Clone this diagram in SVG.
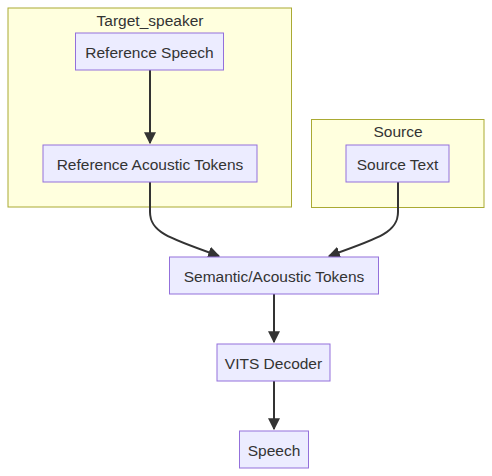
<svg xmlns="http://www.w3.org/2000/svg" width="492" height="476" viewBox="0 0 492 476">
<style>
.cluster rect{fill:#ffffde;stroke:#aaaa33;stroke-width:1}
.node rect{fill:#ECECFF;stroke:#9370DB;stroke-width:1}
text{font-family:"Liberation Sans","DejaVu Sans",sans-serif;font-size:15.5px;fill:#333;text-anchor:middle}
.edge{fill:none;stroke:#333;stroke-width:2}
</style>
<defs>
<marker id="arrow" viewBox="0 0 10 10" refX="9" refY="5" markerUnits="userSpaceOnUse" markerWidth="12" markerHeight="12" orient="auto">
<path d="M0,0 L10,5 L0,10 z" fill="#333"/>
</marker>
</defs>
<g id="cluster-target" class="cluster">
<rect x="8" y="8" width="283.5" height="199"/>
<text x="150" y="26">Target_speaker</text>
</g>
<g id="cluster-source" class="cluster">
<rect x="311.5" y="119.5" width="172.5" height="88"/>
<text x="398" y="137">Source</text>
</g>
<g id="edges">
<path class="edge" d="M150,70 L150,143" marker-end="url(#arrow)"/>
<path class="edge" d="M150,182 L150,212 C150,232 168,238 219,256" marker-end="url(#arrow)"/>
<path class="edge" d="M398,182 L398,212 C398,232 380,238 329,256" marker-end="url(#arrow)"/>
<path class="edge" d="M274,294 L274,342" marker-end="url(#arrow)"/>
<path class="edge" d="M274,381 L274,429" marker-end="url(#arrow)"/>
</g>
<g id="node-refspeech" class="node">
<rect x="75.5" y="33" width="148" height="37"/>
<text x="149.5" y="58">Reference Speech</text>
</g>
<g id="node-reftokens" class="node">
<rect x="43" y="145" width="214" height="37"/>
<text x="150" y="170">Reference Acoustic Tokens</text>
</g>
<g id="node-sourcetext" class="node">
<rect x="346" y="145" width="103" height="37"/>
<text x="397.5" y="170">Source Text</text>
</g>
<g id="node-semantic" class="node">
<rect x="169.5" y="257" width="209" height="37"/>
<text x="274" y="282">Semantic/Acoustic Tokens</text>
</g>
<g id="node-vits" class="node">
<rect x="217" y="344" width="113" height="37"/>
<text x="273.5" y="369">VITS Decoder</text>
</g>
<g id="node-speech" class="node">
<rect x="239.5" y="431" width="69" height="37"/>
<text x="274" y="456">Speech</text>
</g>
</svg>
